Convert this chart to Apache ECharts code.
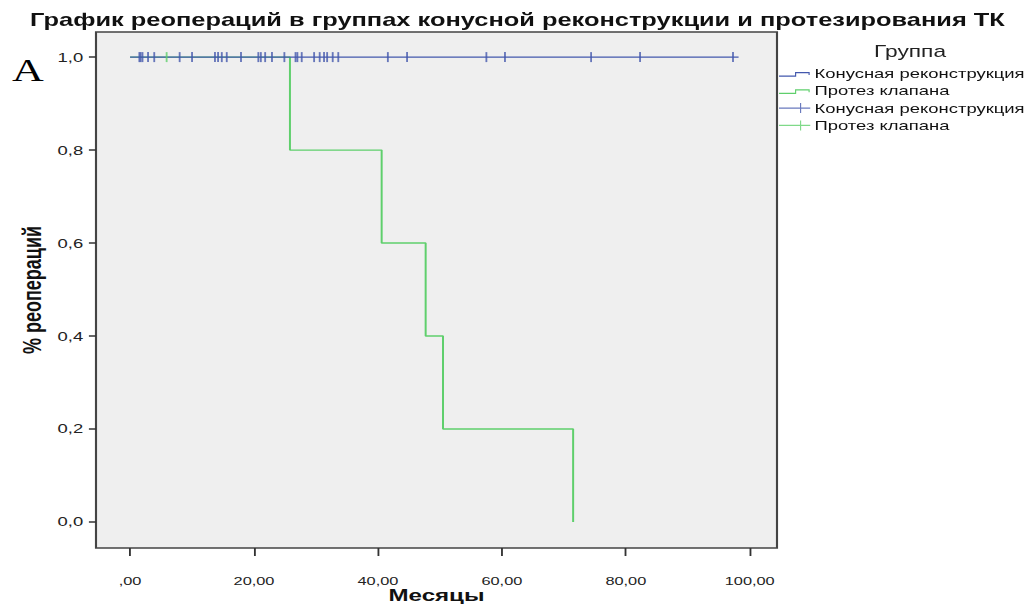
<!DOCTYPE html>
<html>
<head>
<meta charset="utf-8">
<script src="https://cdn.jsdelivr.net/npm/echarts@6/dist/echarts.min.js"></script>
<style>
html,body{margin:0;padding:0;background:#fff;overflow:hidden;width:1033px;height:605px}
#c{width:727.5px;height:605px;transform-origin:0 0;transform:scaleX(1.42)}
</style>
</head>
<body>
<div id="c"></div>
<script>
// Data
const xTicks = [0, 20, 40, 60, 80, 100];
const yTicks = [0, 0.2, 0.4, 0.6, 0.8, 1.0];
// Конусная реконструкция: no events, censored times (months)
const blueEnd = 98.2;
const blueCensor = [1.5, 1.7, 2.0, 2.9, 3.9, 8.0, 10.0, 13.7, 14.2, 14.8, 15.6, 17.9, 20.7, 21.1, 21.8, 22.9, 24.9, 26.7, 27.0, 27.7, 29.7, 30.6, 31.3, 31.8, 32.7, 33.6, 41.6, 44.7, 57.5, 60.5, 74.4, 82.3, 97.3];
// Протез клапана: step survival
const greenTimes = [0, 25.8, 40.6, 47.7, 50.5, 71.5];
const greenSurv  = [1.0, 0.8, 0.6, 0.4, 0.2, 0.0];
const greenCensor = [5.9];

const BLUE = '#4358ad';
const GREEN = '#5fcf6c';
const S = 1.42; // horizontal stretch of the reference picture

const stepIcon = 'path://M0,0L22,0L0,0ZM0,10L22,10L0,10ZM0,7L11.3,7L11.3,3.5L21.6,3.5L21.6,6.5L20.8,6.5L20.8,4.7L12.1,4.7L12.1,8.2L0,8.2Z';
const crossIcon = 'path://M0,4.4L14.8,4.4L14.8,0L15.6,0L15.6,4.4L22,4.4L22,5.6L15.6,5.6L15.6,10L14.8,10L14.8,5.6L0,5.6Z';

const chart = echarts.init(document.getElementById('c'), null, {renderer: 'svg', width: 727.5, height: 605});
chart.setOption({
  animation: false,
  backgroundColor: '#ffffff',
  title: [
    {text: 'График реопераций в группах конусной реконструкции и протезирования ТК', left: 23 / S, top: 6,
     textStyle: {fontFamily: 'Liberation Sans', fontWeight: 'bold', fontSize: 17.9, color: '#111'}},
    {text: 'A', left: 5 / S, top: 50, textStyle: {fontFamily: 'Liberation Serif', fontWeight: 'normal', fontSize: 31, color: '#000'}},
    {text: 'Группа', left: 867 / S, top: 38, textStyle: {fontFamily: 'Liberation Sans', fontWeight: 'normal', fontSize: 16, color: '#222'}}
  ],
  grid: {left: 96 / S, right: 727.5 - 777 / S, top: 32, bottom: 57, outerBoundsMode: 'none',
    show: true, backgroundColor: '#efefef', borderColor: '#444', borderWidth: 1.5},
  legend: {
    orient: 'vertical', left: 779 / S, top: 67, itemWidth: 22, itemHeight: 10, itemGap: 4.3, padding: 0, selectedMode: false,
    textStyle: {fontFamily: 'Liberation Sans', fontSize: 13, color: '#111', padding: [0, 0, 0, -2]},
    data: [
      {name: 'Конусная реконструкция', icon: stepIcon, itemStyle: {color: BLUE}},
      {name: 'Протез клапана', icon: stepIcon, itemStyle: {color: GREEN}},
      {name: 'Конусная реконструкция ', icon: crossIcon, itemStyle: {color: BLUE}},
      {name: 'Протез клапана ', icon: crossIcon, itemStyle: {color: GREEN}}
    ]
  },
  xAxis: {
    type: 'value', min: -5.5, max: 104.4,
    name: 'Месяцы', nameLocation: 'middle', nameGap: 38, nameMoveOverlap: false,
    nameTextStyle: {fontFamily: 'Liberation Sans', fontWeight: 'bold', fontSize: 17, color: '#111', verticalAlign: 'top'},
    axisLine: {show: false, onZero: false},
    axisTick: {show: true, customValues: xTicks, length: 8, lineStyle: {color: '#333', width: 1.3}},
    axisLabel: {customValues: xTicks, margin: 27, fontFamily: 'Liberation Sans', fontSize: 11.5, color: '#222',
      formatter: v => v === 0 ? ',00' : v.toFixed(2).replace('.', ',')},
    splitLine: {show: false}
  },
  yAxis: {
    type: 'value', min: -0.056, max: 1.054,
    name: '% реопераций', nameLocation: 'middle', nameGap: 36, nameRotate: 90, nameMoveOverlap: false,
    nameTextStyle: {fontFamily: 'Liberation Sans', fontWeight: 'bold', fontSize: 18, color: '#111'},
    axisLine: {show: false, onZero: false},
    axisTick: {show: true, customValues: yTicks, length: 5, lineStyle: {color: '#333', width: 1.5}},
    axisLabel: {customValues: yTicks, margin: 9, fontFamily: 'Liberation Sans', fontSize: 13, color: '#222',
      formatter: v => v.toFixed(1).replace('.', ',')},
    splitLine: {show: false}
  },
  series: [
    {name: 'Протез клапана', type: 'line', step: 'end', symbol: 'none', z: 2,
     lineStyle: {color: GREEN, width: 1.4}, itemStyle: {color: GREEN},
     data: greenTimes.map((t, i) => [t, greenSurv[i]])},
    {name: 'Конусная реконструкция', type: 'line', step: 'end', symbol: 'none', z: 3,
     lineStyle: {color: BLUE, width: 1.4}, itemStyle: {color: BLUE},
     data: [[0, 1], [blueEnd, 1]]},
    {name: 'Конусная реконструкция ', type: 'scatter', symbol: 'rect', symbolSize: [1.3, 10], z: 4,
     itemStyle: {color: BLUE}, data: blueCensor.map(t => [t, 1])},
    {name: 'Протез клапана ', type: 'scatter', symbol: 'rect', symbolSize: [1.3, 10], z: 4,
     itemStyle: {color: GREEN}, data: greenCensor.map(t => [t, 1])}
  ]
});
</script>
</body>
</html>
